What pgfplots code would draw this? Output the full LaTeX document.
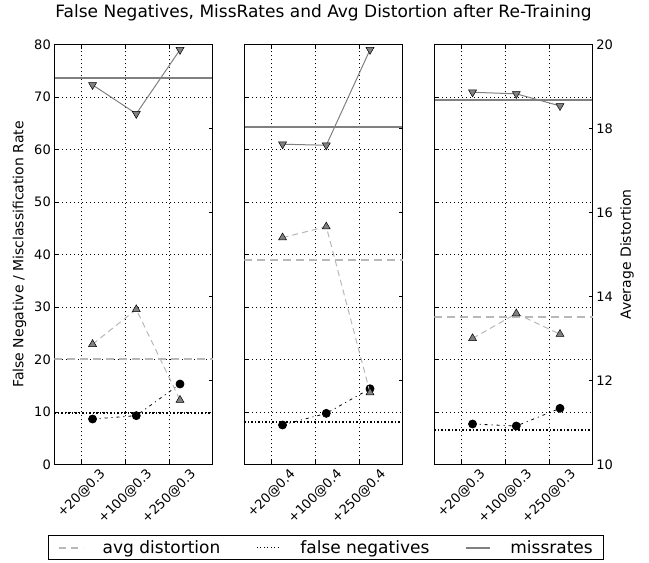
\documentclass[border=0pt]{standalone}
\usepackage{pgfplots}
\pgfplotsset{compat=1.18}
\usepackage{fontspec}
\setmainfont{DejaVu Sans}

\definecolor{missgray}{gray}{0.5}
\definecolor{distgray}{gray}{0.72}

\newcommand\tickfont{\fontsize{13bp}{15bp}\selectfont}
\newcommand\labelfont{\fontsize{14bp}{16bp}\selectfont}

\pgfplotsset{
  panel/.style={
    scale only axis, width=158.5bp, height=419.8bp, anchor=south west,
    xmin=-0.625, xmax=3, ymin=0, ymax=80,
    xtick={0,1,2}, ytick={0,10,...,80},
    ytick pos=left,
    xmajorgrids, ymajorgrids,
    major grid style={black, line width=0.5bp, dash pattern=on 1bp off 3bp},
    tick align=inside, major tick length=4bp,
    tick style={black, line width=0.6bp},
    axis line style={line width=1bp},
    tick label style={font=\tickfont},
    /pgf/number format/assume math mode=true,
    xticklabel style={anchor=north},
    label style={font=\labelfont},
  },
  twin/.style={
    scale only axis, width=158.5bp, height=419.8bp, anchor=south west,
    xmin=-0.625, xmax=3, ymin=10, ymax=20,
    hide x axis, ytick={10,12,...,20},
    ytick pos=right, yticklabel pos=right,
    tick align=inside, major tick length=4bp,
    tick style={black, line width=0.6bp},
    axis line style={line width=1bp},
    tick label style={font=\tickfont},
    /pgf/number format/assume math mode=true,
    label style={font=\labelfont},
  },
  base miss/.style={missgray, line width=2bp},
  base fn/.style={black, line width=2bp, dash pattern=on 1.5bp off 2bp},
  base dist/.style={distgray, line width=2bp, dash pattern=on 8bp off 5bp},
  miss/.style={missgray, line width=1bp, mark=triangle*, mark size=4.6bp,
    mark options={solid, fill=missgray, draw=black, line width=0.5bp, rotate=180}},
  fn/.style={black, line width=0.8bp, dash pattern=on 3bp off 4bp on 1bp off 4bp,
    mark=*, mark size=4bp, mark options={solid, fill=black}},
  dist/.style={distgray, line width=1bp, dash pattern=on 6bp off 4bp, mark=triangle*, mark size=4.6bp,
    mark options={solid, fill=missgray, draw=black, line width=0.5bp}},
}

\begin{document}
\begin{tikzpicture}

% ---- panel 1
\begin{axis}[panel, at={(54.3bp,98.7bp)},
  xticklabels={\rotatebox{45}{+20@0.3},\rotatebox{45}{+100@0.3},\rotatebox{45}{+250@0.3}},
  ylabel={False Negative / Misclassification Rate},
  ylabel style={at={(axis description cs:-0.2196,0.5)}, anchor=center},
  legend columns=3,
  legend style={at={(axis description cs:-0.0416,-0.1684)}, anchor=north west,
    draw=black, line width=1bp, font=\fontsize{17bp}{20bp}\selectfont,
    inner xsep=9.5bp, inner ysep=4bp,
    nodes={inner sep=1bp},
    /tikz/every odd column/.append style={column sep=18bp},
    /tikz/every even column/.append style={column sep=35bp}},
  legend image code/.code={\draw[#1] (3bp,0bp) -- (27bp,0bp);},
]
\addlegendimage{distgray, line width=2bp, dash pattern=on 7bp off 5bp}
\addlegendentry{avg distortion}
\addlegendimage{black, line width=1bp, dash pattern=on 1bp off 2.5bp}
\addlegendentry{false negatives}
\addlegendimage{missgray, line width=2bp}
\addlegendentry{missrates}
\addplot[base miss, forget plot] coordinates {(-0.625,73.55) (3,73.55)};
\addplot[base fn, forget plot] coordinates {(-0.625,9.8) (3,9.8)};
\addplot[miss, forget plot] coordinates {(0.25,72.3) (1.25,66.8) (2.25,79.0)};
\addplot[fn, forget plot] coordinates {(0.25,8.63) (1.25,9.27) (2.25,15.3)};
\end{axis}
\begin{axis}[twin, at={(54.3bp,98.7bp)}, yticklabels={}]
\addplot[base dist] coordinates {(-0.625,12.52) (3,12.52)};
\addplot[dist] coordinates {(0.25,12.86) (1.25,13.69) (2.25,11.53)};
\end{axis}

% ---- panel 2
\begin{axis}[panel, at={(244.3bp,98.7bp)}, yticklabels={},
  xticklabels={\rotatebox{45}{+20@0.4},\rotatebox{45}{+100@0.4},\rotatebox{45}{+250@0.4}},
  title={False Negatives, MissRates and Avg Distortion after Re-Training},
  title style={at={(axis description cs:0.5,1.0512)}, anchor=base,
    font=\fontsize{17bp}{20bp}\selectfont},
]
\addplot[base miss] coordinates {(-0.625,64.2) (3,64.2)};
\addplot[base fn] coordinates {(-0.625,8.12) (3,8.12)};
\addplot[miss] coordinates {(0.25,61.0) (1.25,60.8) (2.25,79.0)};
\addplot[fn] coordinates {(0.25,7.49) (1.25,9.71) (2.25,14.4)};
\end{axis}
\begin{axis}[twin, at={(244.3bp,98.7bp)}, yticklabels={}]
\addplot[base dist] coordinates {(-0.625,14.86) (3,14.86)};
\addplot[dist] coordinates {(0.25,15.4) (1.25,15.66) (2.25,11.71)};
\end{axis}

% ---- panel 3
\begin{axis}[panel, at={(434.3bp,98.7bp)}, yticklabels={},
  xticklabels={\rotatebox{45}{+20@0.3},\rotatebox{45}{+100@0.3},\rotatebox{45}{+250@0.3}},
]
\addplot[base miss] coordinates {(-0.625,69.36) (3,69.36)};
\addplot[base fn] coordinates {(-0.625,6.54) (3,6.54)};
\addplot[miss] coordinates {(0.25,70.9) (1.25,70.6) (2.25,68.3)};
\addplot[fn] coordinates {(0.25,7.68) (1.25,7.3) (2.25,10.67)};
\end{axis}
\begin{axis}[twin, at={(434.3bp,98.7bp)},
  ylabel={Average Distortion},
  ylabel style={at={(axis description cs:1.216,0.5)}, anchor=center, rotate=0},
]
\addplot[base dist] coordinates {(-0.625,13.5) (3,13.5)};
\addplot[dist] coordinates {(0.25,13.0) (1.25,13.59) (2.25,13.1)};
\end{axis}

\pgfresetboundingbox
\path[use as bounding box] (0bp,0bp) rectangle (649bp,563bp);
\end{tikzpicture}
\end{document}
